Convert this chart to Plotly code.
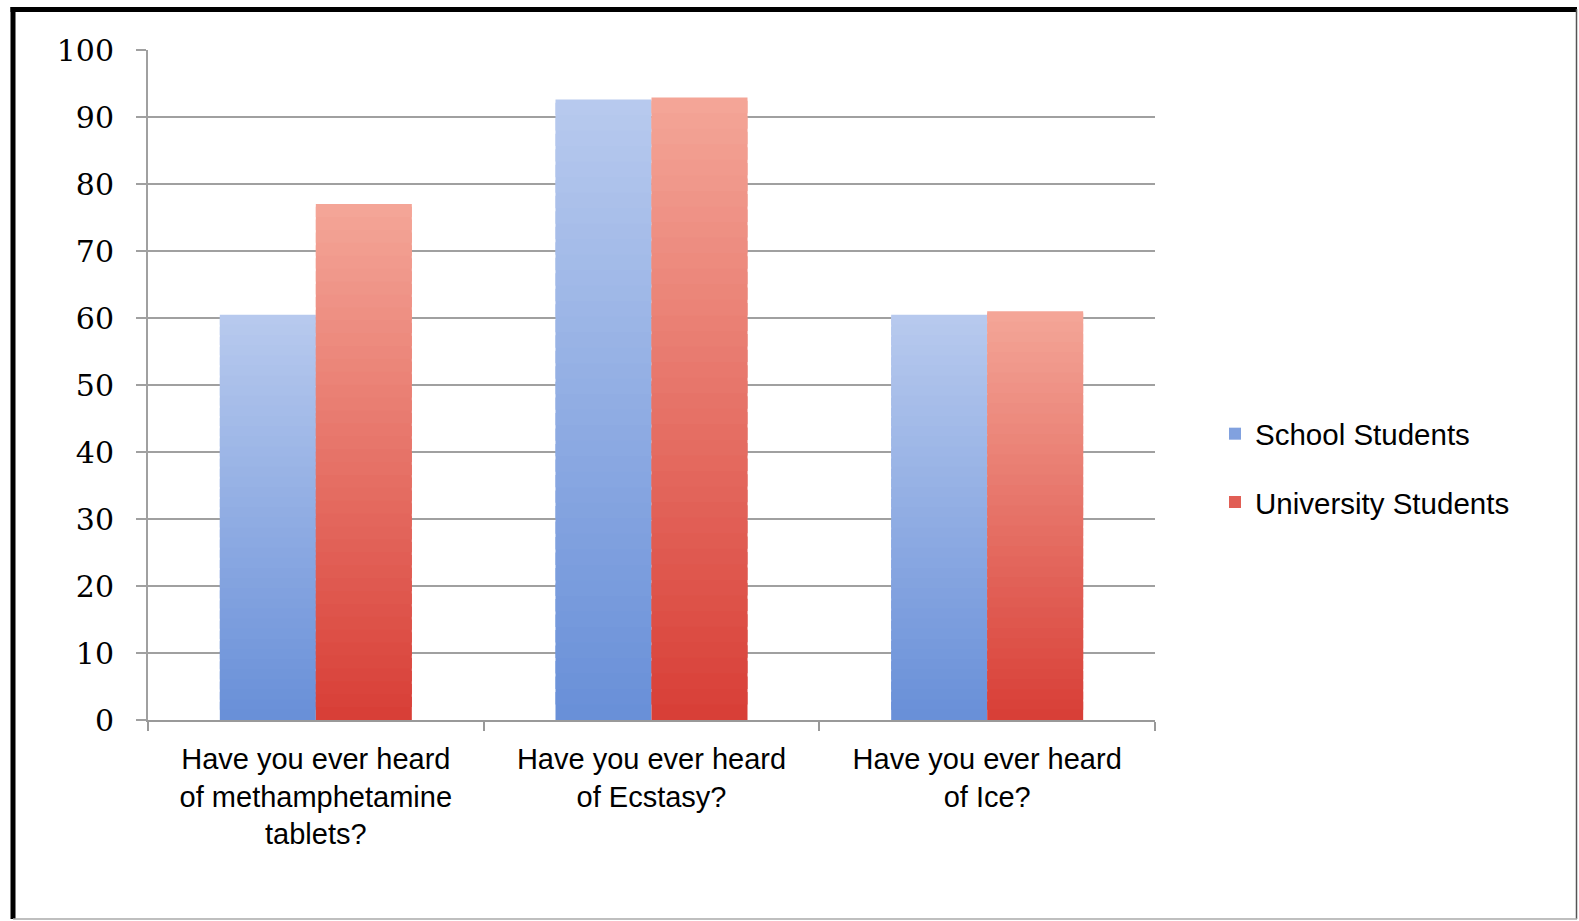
import plotly.graph_objects as go

categories = ["Have you ever heard<br>of methamphetamine<br>tablets?",
              "Have you ever heard<br>of Ecstasy?",
              "Have you ever heard<br>of Ice?"]
school = [60.5, 92.6, 60.5]
university = [77.0, 92.9, 61.0]
y_ticks = [0, 10, 20, 30, 40, 50, 60, 70, 80, 90, 100]

series = [
    ("School Students", school, (0x68, 0x8f, 0xd8), (0xb8, 0xca, 0xee), -0.286),
    ("University Students", university, (0xd8, 0x3e, 0x36), (0xf4, 0xa6, 0x98), 0.0),
]

N = 40
fig = go.Figure()
for name, vals, c_bot, c_top, off in series:
    for i in range(N):
        t = (i + 0.5) / N
        col = tuple(round(c_bot[k] + (c_top[k] - c_bot[k]) * t) for k in range(3))
        # each slice slightly overlaps the one above it to avoid seams
        ext = 1.0 if i == N - 1 else 1.8
        fig.add_trace(go.Bar(
            x=categories,
            y=[v / N * ext for v in vals],
            base=[v * i / N for v in vals],
            offset=off, width=0.286,
            marker=dict(color="rgb(%d,%d,%d)" % col, line=dict(width=0)),
            name=name, legendgroup=name,
            showlegend=(i == 12),
            hoverinfo="skip",
        ))

W0 = 1007.0
H0 = 670.0
def px(x):
    return (x - 148) / W0
def py(y):
    return (720 - y) / H0

shapes = [
    dict(type="line", xref="paper", yref="paper", x0=px(10.5), x1=px(1577), y0=py(9.5), y1=py(9.5),
         line=dict(color="black", width=5)),
    dict(type="line", xref="paper", yref="paper", x0=px(13), x1=px(13), y0=py(7), y1=py(919),
         line=dict(color="black", width=5)),
    dict(type="line", xref="paper", yref="paper", x0=px(1576.5), x1=px(1576.5), y0=py(9), y1=py(919),
         line=dict(color="#555555", width=1.5)),
    dict(type="line", xref="paper", yref="paper", x0=px(13), x1=px(1577), y0=py(919), y1=py(919),
         line=dict(color="#aaaaaa", width=1.5)),
]

fig.update_layout(
    width=1579, height=921,
    margin=dict(l=148, r=424, t=50, b=201),
    paper_bgcolor="white", plot_bgcolor="white",
    barmode="overlay",
    shapes=shapes,
    font=dict(family="Liberation Sans, Arial, sans-serif", size=28, color="black"),
    legend=dict(x=px(1215), xanchor="left", y=py(408), yanchor="top",
                traceorder="grouped", tracegroupgap=27,
                font=dict(size=29.5), bgcolor="rgba(0,0,0,0)", itemclick=False),
    xaxis=dict(type="category", showgrid=False, showline=True, linecolor="#999999", linewidth=2,
               ticks="outside", tickson="boundaries", ticklen=9, tickcolor="#999999", tickwidth=2,
               ticklabelstandoff=12, tickfont=dict(size=29), fixedrange=True),
    yaxis=dict(range=[0, 100], tickvals=y_ticks, showgrid=True, gridcolor="#a0a0a0", gridwidth=2,
               showline=True, linecolor="#a0a0a0", linewidth=2, zeroline=False,
               ticks="outside", ticklen=10, tickcolor="#a0a0a0", tickwidth=2,
               ticklabelstandoff=16,
               tickfont=dict(family="DejaVu Serif, serif", size=30),
               fixedrange=True),
)

fig.write_html("out.html")
